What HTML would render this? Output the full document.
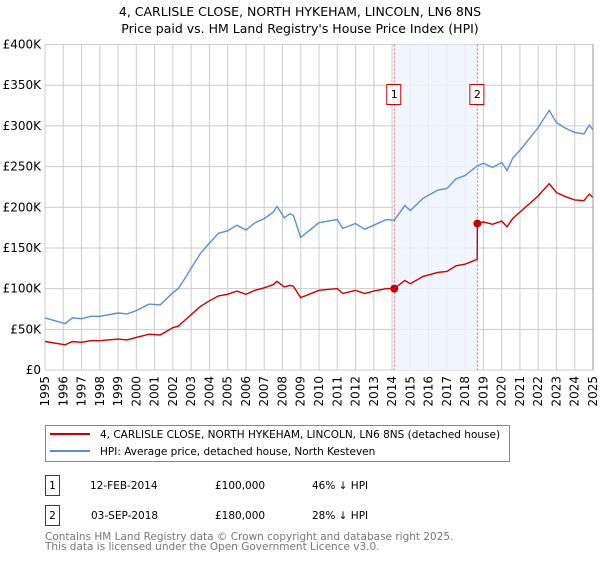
<!DOCTYPE html>
<html><head><meta charset="utf-8"><style>
body{margin:0;background:#fff;width:600px;height:560px;overflow:hidden;font-family:"DejaVu Sans","Liberation Sans",sans-serif}
svg text{font-family:"DejaVu Sans","Liberation Sans",sans-serif}
</style></head><body>
<svg id="chart" width="600" height="560" xmlns="http://www.w3.org/2000/svg">
<text x="300" y="16" text-anchor="middle" font-size="12.5">4, CARLISLE CLOSE, NORTH HYKEHAM, LINCOLN, LN6 8NS</text>
<text x="300" y="33" text-anchor="middle" font-size="12.5">Price paid vs. HM Land Registry's House Price Index (HPI)</text>
<g id="grid"></g>
<g id="shade"></g>
<g id="series"></g>
<g id="axes"></g>
<g>
<rect x="45.5" y="425.5" width="464" height="36" fill="#fff" stroke="#888"/>
<line x1="50" y1="434" x2="90" y2="434" stroke="#cc0000" stroke-width="2"/>
<text x="100" y="438" font-size="10.5">4, CARLISLE CLOSE, NORTH HYKEHAM, LINCOLN, LN6 8NS (detached house)</text>
<line x1="50" y1="451" x2="90" y2="451" stroke="#5b8fd4" stroke-width="2"/>
<text x="100" y="455" font-size="10.5">HPI: Average price, detached house, North Kesteven</text>
</g>
<g font-size="10.5">
<rect x="45.5" y="475.5" width="14" height="20" fill="#fff" stroke="#cc0000"/>
<text x="52.5" y="489" text-anchor="middle">1</text>
<text x="90" y="489">12-FEB-2014</text><text x="215" y="489">£100,000</text><text x="312" y="489">46% ↓ HPI</text>
<rect x="45.5" y="505.5" width="14" height="20" fill="#fff" stroke="#cc0000"/>
<text x="52.5" y="519" text-anchor="middle">2</text>
<text x="91" y="519">03-SEP-2018</text><text x="215" y="519">£180,000</text><text x="312" y="519">28% ↓ HPI</text>
</g>
<text x="45" y="540" font-size="10.5" fill="#777">Contains HM Land Registry data © Crown copyright and database right 2025.</text>
<text x="45" y="550" font-size="10.5" fill="#777">This data is licensed under the Open Government Licence v3.0.</text>
</svg>
<script>
const hpiDates=[1995.0,1996.1,1996.5,1997,1997.5,1998,1999,1999.5,2000,2000.7,2001.3,2002,2002.3,2002.7,2003,2003.5,2004,2004.5,2005,2005.5,2006,2006.5,2007,2007.5,2007.7,2008.1,2008.4,2008.6,2009.0,2010,2011,2011.3,2012,2012.5,2013,2013.7,2014.12,2014.7,2015,2015.7,2016.5,2017,2017.5,2018,2018.67,2019,2019.5,2020,2020.3,2020.6,2021,2021.5,2022,2022.6,2023,2023.5,2024,2024.5,2024.8,2025];
const hpiValues=[64,57,64,63,66,66,70,69,73,81,80,95,100,114,125,143,156,168,171,178,172,181,186,194,201,187,192,190,163,181,185,174,180,173,178,185,184,202,196,211,221,223,235,239,251,254,249,255,245,260,270,284,298,319,304,297,292,290,301,295];
const priceDates=[1995.0,1996.1,1996.5,1997,1997.5,1998,1999,1999.5,2000,2000.7,2001.3,2002,2002.3,2002.7,2003,2003.5,2004,2004.5,2005,2005.5,2006,2006.5,2007,2007.5,2007.7,2008.1,2008.4,2008.6,2009.0,2010,2011,2011.3,2012,2012.5,2013,2013.7,2014.12,2014.7,2015,2015.7,2016.5,2017,2017.5,2018,2018.66,2018.67,2019,2019.5,2020,2020.3,2020.6,2021,2021.5,2022,2022.6,2023,2023.5,2024,2024.5,2024.8,2025];
const priceValues=[35,31,35,34,36,36,38,37,40,44,43,52,54,62,68,78,85,91,93,97,93,98,101,105,109,102,104,103,89,98,100,94,98,94,97,100,100,110,106,115,120,121,128,130,136,180,182,179,183,176,186,194,204,214,229,218,213,209,208,216,212];
const saleDates=[2014.12,2018.67];
const saleValues=[100,180];
const saleLabels=["1","2"];
const yTicks=[0,50,100,150,200,250,300,350,400];
const yTickLabels=["£0","£50K","£100K","£150K","£200K","£250K","£300K","£350K","£400K"];
const xYears=[1995,1996,1997,1998,1999,2000,2001,2002,2003,2004,2005,2006,2007,2008,2009,2010,2011,2012,2013,2014,2015,2016,2017,2018,2019,2020,2021,2022,2023,2024,2025];

const NS="http://www.w3.org/2000/svg";
const X0=45,X1=593,Y0=370,Y1=44.5;
const xs=t=>X0+(t-1995)/30*(X1-X0);
const ys=v=>Y0-v/400*(Y0-Y1);
function mk(tag,attrs,parent){const e=document.createElementNS(NS,tag);for(const k in attrs)e.setAttribute(k,attrs[k]);parent.appendChild(e);return e;}
const grid=document.getElementById('grid'),axes=document.getElementById('axes'),series=document.getElementById('series'),shade=document.getElementById('shade');
yTicks.forEach((v,i)=>{
  const l=mk('line',{x1:X0,x2:X1,y1:ys(v),y2:ys(v),stroke:'#cccccc'},grid);
  
  
  const t=mk('text',{x:X0-4,y:ys(v)+4,'text-anchor':'end','font-size':'12'},axes);
  t.textContent=yTickLabels[i];
  
  
});
xYears.forEach(y=>{
  const l=mk('line',{x1:xs(y),x2:xs(y),y1:Y1,y2:Y0,stroke:'#cccccc'},grid);
  
  
  const t=mk('text',{x:0,y:0,'font-size':'12','text-anchor':'end',transform:`translate(${xs(y)+4},${Y0+6}) rotate(-90)`},axes);
  t.textContent=y;
  
  
});
const r=mk('rect',{x:xs(saleDates[0]),y:Y1,width:xs(saleDates[1])-xs(saleDates[0]),height:Y0-Y1,fill:'#eef3fd',opacity:0.8},shade);


saleDates.forEach((d,i)=>{
  const l=mk('line',{x1:xs(d),x2:xs(d),y1:Y1,y2:Y0,stroke:'#ee6666','stroke-dasharray':'2,2'},shade);
  
  
  const b=mk('rect',{x:xs(d)-7.5,y:84.5,width:14,height:20,fill:'#fff',stroke:'#cc0000'},shade);
  
  
  const t=mk('text',{x:xs(d),y:98,'text-anchor':'middle','font-size':'11'},shade);
  t.textContent=saleLabels[i];
  
  
});
const hp=mk('path',{d:hpiDates.map((d,i)=>(i?'L':'M')+xs(d).toFixed(1)+','+ys(hpiValues[i]).toFixed(1)).join(''),fill:'none',stroke:'#5b8fd4','stroke-width':1.4},series);


const pp=mk('path',{d:priceDates.map((d,i)=>(i?'L':'M')+xs(d).toFixed(1)+','+ys(priceValues[i]).toFixed(1)).join(''),fill:'none',stroke:'#cc0000','stroke-width':1.4},series);


saleDates.forEach((d,i)=>{
  const c=mk('circle',{cx:xs(d),cy:ys(saleValues[i]),r:4,fill:'#cc0000'},series);
  
  
});
const ax=mk('line',{x1:X1,x2:X1,y1:Y1,y2:Y0,stroke:'#999'},axes);


</script>
</body></html>
